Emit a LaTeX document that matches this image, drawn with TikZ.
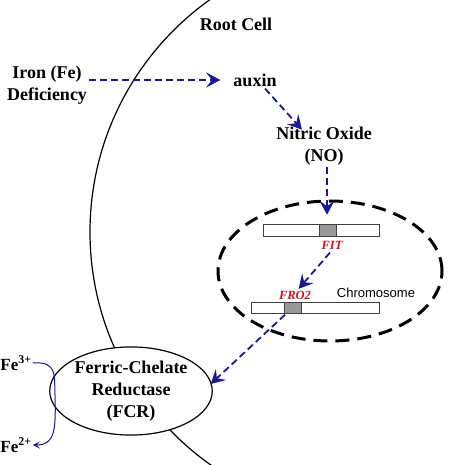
\documentclass[tikz,border=0pt]{standalone}
\usepackage{fontspec}
\setmainfont{Liberation Serif}
\setsansfont{Liberation Sans}
\usetikzlibrary{arrows.meta,shapes.geometric}
\definecolor{arrblue}{RGB}{25,25,145}
\definecolor{genered}{RGB}{200,20,30}
\begin{document}
\begin{tikzpicture}[x=1pt,y=-1pt,
  lbl/.style={font=\fontsize{18}{22}\selectfont\bfseries, align=center, inner sep=1pt},
  gene/.style={font=\fontsize{12.5}{14}\selectfont\bfseries\itshape, text=genered, inner sep=1pt},
  arr/.style={draw=arrblue, line width=1.8pt, dash pattern=on 7pt off 4pt,
    -{Stealth[length=14pt,width=15pt,inset=5.5pt]}},
  bar/.style={draw=black!75, fill=white, line width=0.6pt, rectangle, inner sep=0pt, minimum height=12pt},
  band/.style={draw=black!75, fill=black!40, line width=0.6pt, rectangle, inner sep=0pt, minimum height=12pt},
  fe/.style={font=\fontsize{17}{20}\selectfont\bfseries, inner sep=1pt}
]
\useasboundingbox (0,0) rectangle (448,465);
\fill[white] (0,0) rectangle (448,465);
% cell membrane
\begin{scope}
  \clip (0,0) rectangle (448,465);
  \draw[line width=1.2pt] (375,232) circle[radius=285];
\end{scope}
% labels
\node[lbl] (root) at (236,24) {Root Cell};
\node[lbl] (iron) at (47,85) {Iron (Fe)\\Deficiency};
\node[lbl] (auxin) at (255,80) {auxin};
\node[lbl] (no) at (324,146) {Nitric Oxide\\(NO)};
% chromosome region
\node[draw, ellipse, line width=3pt, dash pattern=on 14pt off 8pt,
  minimum width=224pt, minimum height=140pt, inner sep=0pt] (nucleus) at (330,271) {};
\node[bar, minimum width=116pt] (bar1) at (321,230) {};
\node[band, minimum width=17pt] (band1) at (327.5,230) {};
\node[gene] (fit) at (332,245) {FIT};
\node[bar, minimum width=128pt, minimum height=11pt] (bar2) at (315,307.5) {};
\node[band, minimum width=17pt, minimum height=11pt] (band2) at (292.5,307.5) {};
\node[gene] (fro2) at (295,295) {FRO2};
\node[font=\fontsize{13}{15}\sffamily, inner sep=1pt] (chromo) at (376,293) {Chromosome};
% FCR
\node[draw, ellipse, fill=white, line width=1.2pt, minimum width=152pt, minimum height=83pt,
  inner sep=0pt, lbl] (fcr) at (131,391) {Ferric-Chelate\\Reductase\\(FCR)};
\node[fe] (fe3) at (16,363) {Fe\textsuperscript{3+}};
\node[fe] (fe2) at (16,445) {Fe\textsuperscript{2+}};
% arrows
\draw[arr, shorten <=1pt, shorten >=12pt] (iron.east |- auxin.west) -- (auxin.west);
\draw[arr] ([xshift=10pt,yshift=-1pt]auxin.south) -- ([xshift=-22pt,yshift=-4pt]no.north);
\draw[arr, shorten <=1pt, shorten >=9pt] ([xshift=-0.5pt]no.south -| band1.north) -- ([xshift=-0.5pt]band1.north);
\draw[arr, shorten <=3pt, shorten >=1pt] (fit.south) -- ([xshift=3pt]fro2.north);
\draw[arr, shorten <=2pt, shorten >=-3pt] ([xshift=-6pt]band2.south) -- ([yshift=9pt]fcr.east);
\draw[draw=arrblue, line width=1pt, -{Stealth[length=7pt,width=7pt,inset=3pt]}]
  (fe3.east) .. controls (58,361) and (54,376) .. (55,395)
  .. controls (56,430) and (55,445) .. (fe2.east);
\end{tikzpicture}
\end{document}
